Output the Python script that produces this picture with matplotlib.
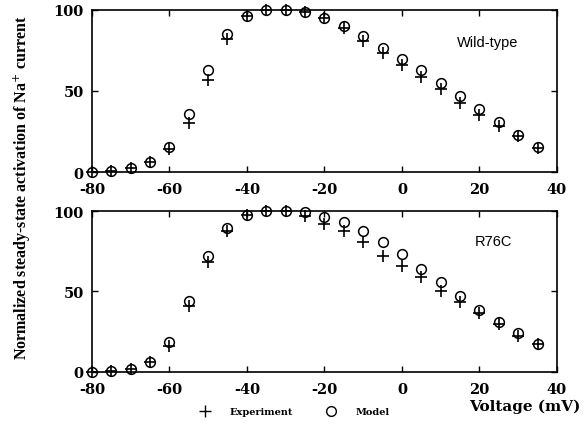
import matplotlib
matplotlib.use("Agg")
from matplotlib import pyplot as plt
from matplotlib.lines import Line2D

plt.rcParams["axes.unicode_minus"] = False

# voltage steps (mV)
voltage = [-80, -75, -70, -65, -60, -55, -50, -45, -40, -35, -30, -25,
           -20, -15, -10, -5, 0, 5, 10, 15, 20, 25, 30, 35]

# wild-type
wt_experiment = [0, 0.5, 2.5, 6, 14, 30, 57, 82, 96.5, 100, 100, 99,
                 95, 89, 81, 73.5, 66, 58.5, 51, 42.5, 35, 28.5, 22, 15]
wt_model = [0, 0.5, 2.5, 6, 15.5, 36, 63, 85, 96.5, 100, 100, 99,
            95, 90, 84, 76.5, 70, 63, 55, 47, 39, 31, 23, 15.5]

# R76C mutant
r76c_experiment = [0, 0.5, 2, 6, 16, 41, 68.5, 87.5, 97.5, 100, 100, 97,
                   92, 87.5, 80.5, 72, 66, 59, 50.5, 43.5, 36.5, 29.5, 22.6, 17.4]
r76c_model = [0, 0.5, 2, 6, 18.4, 44, 72, 89.5, 97.5, 100, 100, 99.5,
              96, 93, 87.5, 80.5, 73, 64, 56, 47, 38.7, 31, 24, 17.4]

panels = [
    ("Wild-type", wt_experiment, wt_model, (14.2, 80)),
    ("R76C", r76c_experiment, r76c_model, (18.8, 81.5)),
]

serif = ["Liberation Serif", "DejaVu Serif"]
wide_serif = ["DejaVu Serif"]
sans = ["Liberation Sans", "DejaVu Sans"]

fig = plt.figure(figsize=(5.85, 4.31), dpi=100)
positions = [[0.157, 0.5986, 0.795, 0.376], [0.157, 0.1346, 0.795, 0.3735]]

for pos, (name, exp, model, txt) in zip(positions, panels):
    ax = fig.add_axes(pos)
    ax.plot(voltage, exp, linestyle="none", marker="+", markersize=9,
            markeredgewidth=1.2, color="black", clip_on=False)
    ax.plot(voltage, model, linestyle="none", marker="o", markersize=7,
            markerfacecolor="none", markeredgewidth=1.1, color="black",
            clip_on=False)
    ax.set_xlim(-80, 40)
    ax.set_ylim(0, 100)
    ax.set_xticks([-80, -60, -40, -20, 0, 20, 40])
    ax.set_yticks([0, 50, 100])
    ax.tick_params(direction="in", top=True, right=True, length=4, width=1)
    ax.tick_params(axis="x", pad=7)
    ax.tick_params(axis="y", pad=6)
    for lbl in ax.get_xticklabels() + ax.get_yticklabels():
        lbl.set_family(wide_serif)
        lbl.set_fontweight("bold")
        lbl.set_fontsize(10.5)
    for sp in ax.spines.values():
        sp.set_linewidth(1.2)
    ax.text(txt[0], txt[1], name, family=sans, fontsize=10.5, va="center",
            ha="left")

fig.text(0.038, 0.564, "Normalized steady-state activation of Na$^{+}$ current",
         rotation=90, ha="center", va="center", family=serif,
         fontweight="bold", fontsize=11.5)
fig.text(0.992, 0.056, "Voltage (mV)", ha="right", va="center",
         family=wide_serif, fontweight="bold", fontsize=11)

handles = [
    Line2D([], [], linestyle="none", marker="+", markersize=9,
           markeredgewidth=1.0, color="black"),
    Line2D([], [], linestyle="none", marker="o", markersize=7,
           markerfacecolor="none", markeredgewidth=1.0, color="black"),
]
fig.legend(handles, ["Experiment", "Model"], ncol=2, frameon=False,
           loc="center", bbox_to_anchor=(0.50, 0.042), columnspacing=3.0,
           handletextpad=1.5, prop={"family": wide_serif, "weight": "bold",
                                    "size": 7})

fig.savefig("out.png", dpi=100, facecolor="white")
